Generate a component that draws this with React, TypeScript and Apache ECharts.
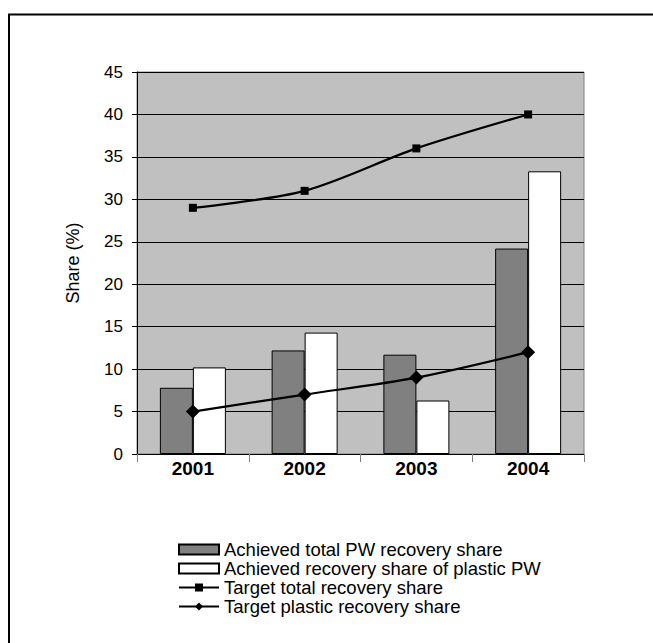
import React, { useEffect, useRef } from "react";
import * as echarts from "echarts";

const categories = ["2001", "2002", "2003", "2004"];
const achievedTotal = [7.8, 12.2, 11.7, 24.2];
const achievedPlastic = [10.2, 14.3, 6.3, 33.3];
const targetTotal = [29, 31, 36, 40];
const targetPlastic = [5, 7, 9, 12];

const FONT = "Liberation Sans, Arial, sans-serif";

export default function App() {
  const ref = useRef<HTMLDivElement>(null);
  useEffect(() => {
    if (!ref.current) return;
    const chart = echarts.init(ref.current, null, { renderer: "svg" });
    chart.setOption({
      animation: false,
      backgroundColor: "#ffffff",
      textStyle: { fontFamily: FONT },
      graphic: [
        {
          type: "rect",
          shape: { x: 9, y: 14.5, width: 700, height: 700 },
          style: { fill: "none", stroke: "#000", lineWidth: 2 },
          silent: true,
        },
      ],
      grid: {
        left: 137,
        top: 72,
        right: 69,
        bottom: 189,
        show: true,
        backgroundColor: "#c0c0c0",
        borderColor: "#808080",
        borderWidth: 1,
      },
      legend: {
        orient: "vertical",
        left: 173,
        top: 535,
        itemWidth: 40,
        itemHeight: 10,
        itemGap: 0,
        textStyle: { fontFamily: FONT, fontSize: 18.5, color: "#000", lineHeight: 19 },
        data: [
          { name: "Achieved total PW recovery share", icon: "rect" },
          { name: "Achieved recovery share of plastic PW", icon: "rect" },
          "Target total recovery share",
          "Target plastic recovery share",
        ],
      },
      xAxis: {
        type: "category",
        data: categories,
        boundaryGap: true,
        axisLine: { lineStyle: { color: "#000", width: 1 } },
        axisTick: { show: true, length: 8, inside: false, lineStyle: { color: "#808080" } },
        axisLabel: { fontFamily: FONT, fontSize: 19, fontWeight: "bold", color: "#000", margin: 5 },
        splitLine: { show: false },
      },
      yAxis: {
        type: "value",
        min: 0,
        max: 45,
        interval: 5,
        name: "Share (%)",
        nameLocation: "middle",
        nameGap: 55,
        nameTextStyle: { fontFamily: FONT, fontSize: 18, color: "#000" },
        axisLine: { show: true, lineStyle: { color: "#000", width: 1 } },
        axisTick: { show: true, length: 5, lineStyle: { color: "#000" } },
        axisLabel: { fontFamily: FONT, fontSize: 17, color: "#000", margin: 14 },
        splitLine: { show: true, lineStyle: { color: "#000", width: 1 } },
      },
      series: [
        {
          name: "Achieved total PW recovery share",
          type: "bar",
          data: achievedTotal,
          barWidth: 33,
          barGap: "0%",
          itemStyle: { color: "#808080", borderColor: "#000", borderWidth: 1 },
        },
        {
          name: "Achieved recovery share of plastic PW",
          type: "bar",
          data: achievedPlastic,
          barWidth: 33,
          barGap: "0%",
          itemStyle: { color: "#ffffff", borderColor: "#000", borderWidth: 1 },
        },
        {
          name: "Target total recovery share",
          type: "line",
          data: targetTotal,
          smooth: 0.3,
          symbol: "rect",
          symbolSize: 8,
          z: 5,
          lineStyle: { color: "#000", width: 2.2 },
          itemStyle: { color: "#000" },
        },
        {
          name: "Target plastic recovery share",
          type: "line",
          data: targetPlastic,
          smooth: 0.3,
          symbol: "diamond",
          symbolSize: 14,
          z: 5,
          lineStyle: { color: "#000", width: 2.2 },
          itemStyle: { color: "#000" },
        },
      ],
    });
    return () => chart.dispose();
  }, []);
  return (
    <div
      ref={ref}
      style={{ position: "fixed", left: 0, top: 0, width: 653, height: 643 }}
    />
  );
}
